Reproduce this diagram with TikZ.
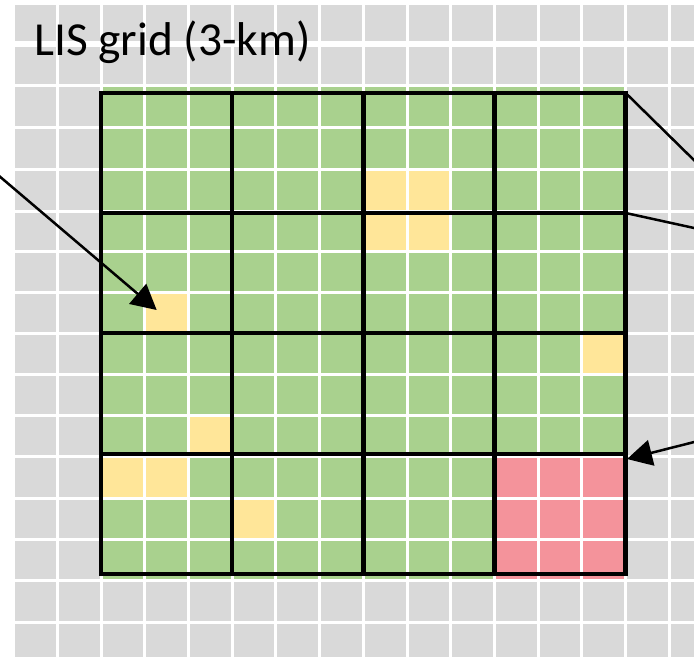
\documentclass[tikz,border=0pt]{standalone}
\usepackage{fontspec}
\setmainfont{Carlito}
\usetikzlibrary{arrows.meta}
\definecolor{cellgray}{HTML}{D9D9D9}
\definecolor{cellgreen}{HTML}{A9D18E}
\definecolor{cellyellow}{HTML}{FFE699}
\definecolor{cellred}{HTML}{F4939B}
% row boundaries of the 3-km grid
\def\rowy{{3.5,43.5,85.5,127.5,169.5,211.5,251.5,292,333,374.5,415.5,456.5,498,539.5,580.5,622,663}}
% fill one LIS cell: column, row (inside the domain), colour
\newcommand\lischeck[3]{%
  \pgfmathsetmacro\xa{13.6+43.72*(#1+2)}%
  \pgfmathsetmacro\xb{13.6+43.72*(#1+3)}%
  \pgfmathtruncatemacro\ra{#2+2}%
  \pgfmathtruncatemacro\rb{#2+3}%
  \pgfmathsetmacro\ya{\rowy[\ra]}%
  \pgfmathsetmacro\yb{\rowy[\rb]}%
  \fill[#3] (\xa,\ya) rectangle (\xb,\yb);}
\tikzset{
  gridline/.style={white, line width=3pt},
  blockline/.style={black, line width=4.5pt, line cap=rect},
  pointer/.style={black, line width=2.5pt},
  pointerhead/.style={-{Triangle[length=25pt,width=26pt]}}
}
\begin{document}
\begin{tikzpicture}[x=1pt,y=-1pt]
\clip (0,0) rectangle (694,657);
\fill[white] (0,0) rectangle (694,657);
\fill[cellgray] (15,5) rectangle (694,657);
% model domain
\fill[cellgreen] (101.04,85.5) rectangle (625.68,580.5);
% partially covered cells
\lischeck{6}{2}{cellyellow}
\lischeck{7}{2}{cellyellow}
\lischeck{6}{3}{cellyellow}
\lischeck{7}{3}{cellyellow}
\lischeck{1}{5}{cellyellow}
\lischeck{11}{6}{cellyellow}
\lischeck{2}{8}{cellyellow}
\lischeck{0}{9}{cellyellow}
\lischeck{1}{9}{cellyellow}
\lischeck{3}{10}{cellyellow}
% block outside the domain
\foreach \c in {9,10,11}{\foreach \r in {9,10,11}{\lischeck{\c}{\r}{cellred}}}
% white cell borders
\foreach \i in {1,...,15}{
  \pgfmathsetmacro\xx{13.6+43.72*\i}
  \draw[gridline] (\xx,0) -- (\xx,657);}
\foreach \j in {2,...,15}{
  \pgfmathsetmacro\yy{\rowy[\j]}
  \draw[gridline] (0,\yy) -- (694,\yy);}
\draw[gridline, line width=6pt] (0,43.5) -- (694,43.5);
\fill[white] (0,0) rectangle (15,657);
% coarse blocks
\foreach \bx in {101.04,232.2,363.36,494.52,625.68}
  \draw[blockline] (\bx,93) -- (\bx,574);
\foreach \by in {93,213,333,454,574}
  \draw[blockline] (101.04,\by) -- (625.68,\by);
\node[anchor=base west, inner sep=0pt, font=\fontsize{47.4}{54}\selectfont] (title) at (34,55) {LIS grid (3-km)};
% pointers
\coordinate (srcL) at (-6,171.6);
\coordinate (tipL) at (156.7,310);
\coordinate (cornerTR) at (625.68,93);
\coordinate (outTR) at (701,167);
\coordinate (cornerR) at (625.68,213);
\coordinate (outR) at (701,229.5);
\coordinate (srcR) at (701,440.3);
\coordinate (tipR) at (627,459);
\draw[pointer, pointerhead] (srcL) -- (tipL);
\draw[pointer] (cornerTR) -- (outTR);
\draw[pointer] (cornerR) -- (outR);
\draw[pointer, pointerhead] (srcR) -- (tipR);
\end{tikzpicture}
\end{document}
